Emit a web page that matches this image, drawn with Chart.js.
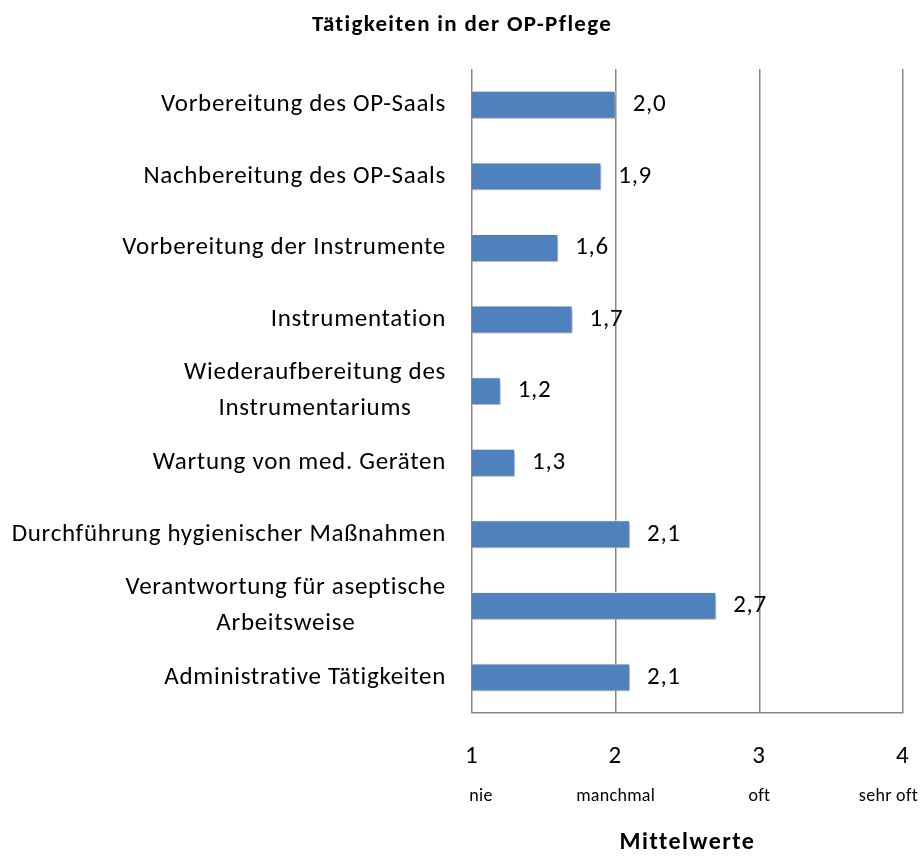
<!DOCTYPE html>
<html>
<head>
<meta charset="utf-8">
<script src="https://cdn.jsdelivr.net/npm/chart.js@4/dist/chart.umd.min.js"></script>
<style>
  body { margin: 0; background: #fff; }
  #wrap { width: 920px; height: 857px; }
</style>
</head>
<body>
<div id="wrap"><canvas id="chart" width="920" height="857"></canvas></div>
<script>
"use strict";

// Chart data
var chartTitle = 'Tätigkeiten in der OP-Pflege';
var categories = [
    ['Vorbereitung des OP-Saals'],
    ['Nachbereitung des OP-Saals'],
    ['Vorbereitung der Instrumente'],
    ['Instrumentation'],
    ['Wiederaufbereitung des', 'Instrumentariums'],
    ['Wartung von med. Geräten'],
    ['Durchführung hygienischer Maßnahmen'],
    ['Verantwortung für aseptische', 'Arbeitsweise'],
    ['Administrative Tätigkeiten']
];
var meanValues = [2.0, 1.9, 1.6, 1.7, 1.2, 1.3, 2.1, 2.7, 2.1];
var tickValues = [1, 2, 3, 4];
var tickSubLabels = ['nie', 'manchmal', 'oft', 'sehr oft'];
var axisTitle = 'Mittelwerte';

var fontFamily = "Carlito, 'Open Sans', Lato, sans-serif";

// Bar shadow + a bit of letter spacing for the Excel look
var shadowPlugin = {
    id: 'barShadow',
    beforeDraw: function (chart) {
        chart.ctx.letterSpacing = '1.5px';
    },
    beforeDatasetDraw: function (chart) {
        var ctx = chart.ctx;
        ctx.save();
        ctx.shadowColor = 'rgba(0,0,0,0.35)';
        ctx.shadowBlur = 4;
        ctx.shadowOffsetX = 2;
        ctx.shadowOffsetY = 2;
    },
    afterDatasetDraw: function (chart) {
        chart.ctx.restore();
    }
};

// Category labels, value labels, sub labels and title
var textPlugin = {
    id: 'texts',
    afterDraw: function (chart) {
        var ctx = chart.ctx;
        var area = chart.chartArea;
        var yScale = chart.scales.y;
        var xScale = chart.scales.x;
        ctx.save();
        ctx.fillStyle = '#000';
        ctx.textBaseline = 'middle';

        // category labels: right aligned block, lines centered inside the block
        ctx.font = '25px ' + fontFamily;
        ctx.letterSpacing = '0.7px';
        ctx.textAlign = 'center';
        var lineH = 36;
        categories.forEach(function (lines, i) {
            var yc = yScale.getPixelForValue(i);
            var maxW = 0;
            lines.forEach(function (l) { maxW = Math.max(maxW, ctx.measureText(l).width); });
            var cx = area.left - 26 - maxW / 2;
            lines.forEach(function (l, j) {
                ctx.fillText(l, cx, yc + (j - (lines.length - 1) / 2) * lineH);
            });
        });

        // value labels
        ctx.textAlign = 'left';
        ctx.font = '25px ' + fontFamily;
        var meta = chart.getDatasetMeta(0);
        meta.data.forEach(function (bar, i) {
            ctx.fillText(meanValues[i].toFixed(1).replace('.', ','), bar.x + 17, bar.y);
        });

        // sub labels below tick numbers
        ctx.font = '18px ' + fontFamily;
        ctx.letterSpacing = '0.3px';
        ctx.textAlign = 'center';
        tickSubLabels.forEach(function (s, i) {
            var x = xScale.getPixelForValue(tickValues[i]);
            var w = ctx.measureText(s).width;
            if (i === 0) x += 9;
            if (x + w / 2 > chart.width - 2) x = chart.width - 2 - w / 2;
            ctx.fillText(s, x, area.bottom + 83);
        });

        // title
        ctx.font = 'bold 23px ' + fontFamily;
        ctx.letterSpacing = '1.3px';
        ctx.fillText(chartTitle, 462, 25);
        ctx.restore();
    }
};

var chart = new Chart(document.getElementById('chart').getContext('2d'), {
    type: 'bar',
    data: {
        labels: categories,
        datasets: [{
            data: meanValues,
            backgroundColor: '#4F81BD',
            borderColor: 'rgba(255,255,255,0.9)',
            borderWidth: 1,
            barPercentage: 0.78,
            categoryPercentage: 0.5
        }]
    },
    options: {
        indexAxis: 'y',
        responsive: false,
        animation: false,
        layout: { padding: { top: 69, right: 2, left: 0, bottom: 0 } },
        plugins: {
            legend: { display: false },
            tooltip: { enabled: false },
            title: { display: false }
        },
        scales: {
            x: {
                min: 1,
                max: 4,
                afterBuildTicks: function (scale) {
                    scale.ticks = tickValues.map(function (v) { return { value: v }; });
                },
                afterFit: function (scale) { scale.paddingRight = 17; },
                ticks: {
                    color: '#000',
                    font: { family: fontFamily, size: 25 },
                    padding: 29,
                    maxRotation: 0
                },
                grid: {
                    color: '#868686',
                    lineWidth: 1.5,
                    drawTicks: false
                },
                border: { display: true, color: '#868686', width: 1.5 },
                title: {
                    display: true,
                    text: axisTitle,
                    color: '#000',
                    font: { family: fontFamily, size: 24, weight: 'bold' },
                    padding: { top: 27, bottom: 0 }
                }
            },
            y: {
                afterFit: function (scale) { scale.width = 472; },
                ticks: { display: false },
                grid: { display: false },
                border: { display: false }
            }
        }
    },
    plugins: [shadowPlugin, textPlugin]
});
</script>
</body>
</html>
